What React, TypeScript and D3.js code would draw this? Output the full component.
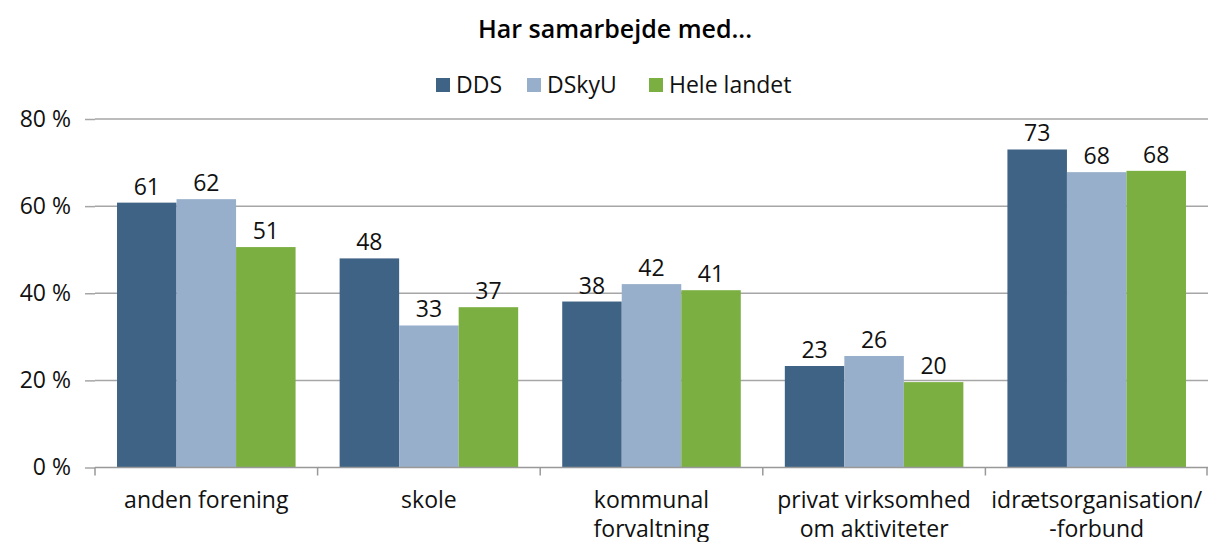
import React, { useRef, useEffect, FC } from "react";
import * as d3 from "d3";

const categories = [
  ["anden forening"],
  ["skole"],
  ["kommunal", "forvaltning"],
  ["privat virksomhed", "om aktiviteter"],
  ["idrætsorganisation/", "-forbund"],
];
const seriesNames = ["DDS", "DSkyU", "Hele landet"];
const ddsValues = [60.8, 48.0, 38.1, 23.3, 73.0];
const dskyuValues = [61.6, 32.6, 42.1, 25.6, 67.8];
const heleValues = [50.6, 36.8, 40.7, 19.6, 68.1];
const yTicks = [0, 20, 40, 60, 80];
const colors = ["#3F6384", "#98AFCB", "#7BAF42"];

const App: FC = () => {
  const chartRef = useRef(null);

  useEffect(() => {
    const container = d3.select(chartRef.current);
    container.selectAll("svg").remove();

    const width = 1208;
    const height = 542;
    const margin = { top: 119, right: 0, bottom: 74.5, left: 95 };
    const font = "'Open Sans', Lato, sans-serif";
    const fs = "23px";

    const svg = container
      .append("svg")
      .attr("width", width)
      .attr("height", height)
      .style("position", "absolute")
      .style("left", 0)
      .style("top", 0)
      .style("font-family", font);

    const series = [ddsValues, dskyuValues, heleValues];
    const idx = d3.range(categories.length);

    const x0 = d3
      .scaleBand<number>()
      .domain(idx)
      .range([margin.left, width - margin.right]);
    const x1 = d3
      .scaleBand<number>()
      .domain(d3.range(series.length))
      .range([0, x0.bandwidth()])
      .paddingOuter(0.37);
    const y = d3
      .scaleLinear()
      .domain([0, 80])
      .range([height - margin.bottom, margin.top]);

    // gridlines
    svg
      .append("g")
      .selectAll("line")
      .data(yTicks.slice(1))
      .enter()
      .append("line")
      .attr("x1", margin.left)
      .attr("x2", width)
      .attr("y1", (d) => y(d))
      .attr("y2", (d) => y(d))
      .attr("stroke", "#A6A6A6")
      .attr("stroke-width", 1.5);

    // y tick labels and ticks
    const yAxis = d3
      .axisLeft(y)
      .tickValues(yTicks)
      .tickSize(10)
      .tickPadding(14)
      .tickFormat((d: any) => `${d} %`);
    const gy = svg.append("g").attr("transform", `translate(${margin.left},0)`).call(yAxis);
    gy.select(".domain").remove();
    gy.selectAll(".tick line").attr("stroke", "#A6A6A6").attr("stroke-width", 1.5).attr("x2", 0).attr("x1", -10);
    gy.selectAll(".tick text")
      .attr("fill", "#111")
      .style("font-size", fs)
      .style("font-family", font)
      .attr("dy", "0.32em");

    // bars
    series.forEach((vals, s) => {
      const g = svg.append("g");
      g.selectAll("rect")
        .data(vals)
        .enter()
        .append("rect")
        .attr("x", (_d, i) => (x0(i) as number) + (x1(s) as number))
        .attr("y", (d) => y(d))
        .attr("width", x1.bandwidth())
        .attr("height", (d) => y(0) - y(d))
        .attr("fill", colors[s]);
      g.selectAll("text")
        .data(vals)
        .enter()
        .append("text")
        .attr("x", (_d, i) => (x0(i) as number) + (x1(s) as number) + x1.bandwidth() / 2)
        .attr("y", (d) => y(d) - 8)
        .attr("text-anchor", "middle")
        .attr("fill", "#111")
        .style("font-size", fs)
        .text((d) => Math.round(d));
    });

    // x axis
    const base = y(0);
    svg
      .append("line")
      .attr("x1", margin.left)
      .attr("x2", width)
      .attr("y1", base)
      .attr("y2", base)
      .attr("stroke", "#999")
      .attr("stroke-width", 1.5);
    svg
      .append("g")
      .selectAll("line")
      .data(d3.range(categories.length + 1))
      .enter()
      .append("line")
      .attr("x1", (i) => Math.min(margin.left + i * x0.step(), width - 1))
      .attr("x2", (i) => Math.min(margin.left + i * x0.step(), width - 1))
      .attr("y1", base)
      .attr("y2", base + 8)
      .attr("stroke", "#999")
      .attr("stroke-width", 1.5);

    const labels = svg
      .append("g")
      .selectAll("text")
      .data(categories)
      .enter()
      .append("text")
      .attr("x", (_d, i) => (x0(i) as number) + x0.bandwidth() / 2)
      .attr("y", base + 40)
      .attr("text-anchor", "middle")
      .attr("fill", "#111")
      .style("font-size", fs);
    labels
      .selectAll("tspan")
      .data((d) => d)
      .enter()
      .append("tspan")
      .attr("x", function () {
        return (this as any).parentNode.getAttribute("x");
      })
      .attr("dy", (_d, i) => (i === 0 ? 0 : 29))
      .text((d) => d);

    // title
    svg
      .append("text")
      .attr("x", 615)
      .attr("y", 38)
      .attr("text-anchor", "middle")
      .attr("fill", "#000")
      .style("font-size", "25px")
      .style("font-weight", 600)
      .text("Har samarbejde med...");

    // legend
    const legendX = [436, 527, 649];
    const legend = svg
      .append("g")
      .selectAll("g")
      .data(seriesNames)
      .enter()
      .append("g")
      .attr("transform", (_d, i) => `translate(${legendX[i]},78)`);
    legend
      .append("rect")
      .attr("width", 14)
      .attr("height", 14)
      .attr("fill", (_d, i) => colors[i]);
    legend
      .append("text")
      .attr("x", 20)
      .attr("y", 15)
      .attr("fill", "#111")
      .style("font-size", fs)
      .text((d) => d);
  }, []);

  return <div ref={chartRef} />;
};

export default App;
